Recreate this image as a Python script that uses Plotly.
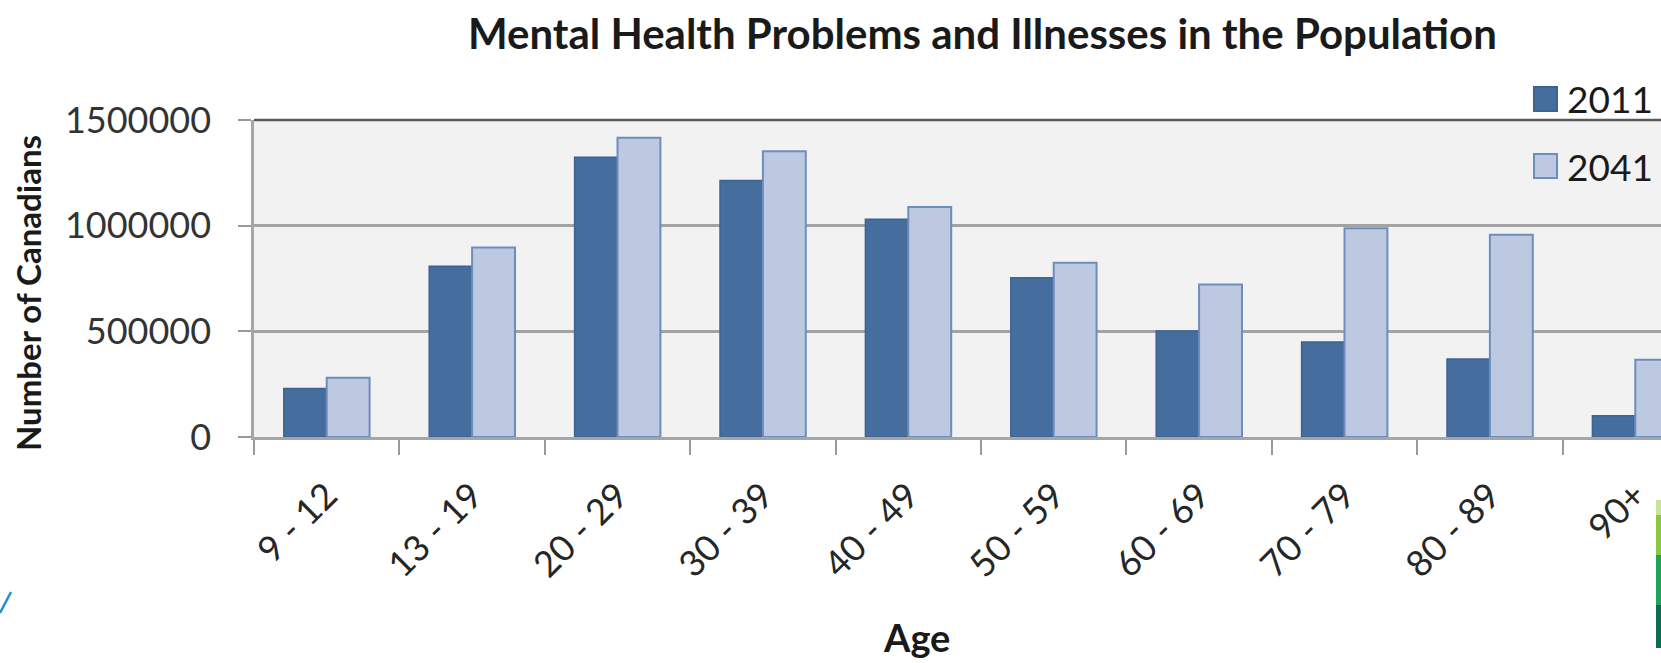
import plotly.graph_objects as go

# ---- data ----
age_groups = ["9 - 12", "13 - 19", "20 - 29", "30 - 39", "40 - 49",
              "50 - 59", "60 - 69", "70 - 79", "80 - 89", "90+"]
series_names = ["2011", "2041"]
values_2011 = [230000, 808000, 1324000, 1214000, 1030000,
               753000, 502000, 450000, 369000, 101000]
values_2041 = [280000, 897000, 1416000, 1352000, 1088000,
               825000, 722000, 988000, 957000, 366000]
y_ticks = [0, 500000, 1000000, 1500000]

title_text = "Mental Health Problems and Illnesses in the Population"
y_title = "Number of Canadians"
x_title = "Age"

# ---- geometry helpers (pixel -> paper) ----
W, H = 1661, 663
L, R, T, B = 254, 0, 120, 226
PW = W - L - R
PH = H - T - B


def px(x):
    return (x - L) / PW


def py(y):
    return (H - B - y) / PH


col_2011 = "#456e9e"
col_2041 = "#bdc9e1"
line_2011 = "#3d6391"
line_2041 = "#6d8dbd"
FONT = "Lato"

fig = go.Figure()
fig.add_trace(go.Bar(x=age_groups, y=values_2011, name=series_names[0],
                     marker=dict(color=col_2011, line=dict(color=line_2011, width=1.5))))
fig.add_trace(go.Bar(x=age_groups, y=values_2041, name=series_names[1],
                     marker=dict(color=col_2041, line=dict(color=line_2041, width=2))))

# visible part of the category axis (chart is cropped at the right edge)
cat_px = 145.4
x_hi = PW / cat_px - 0.5

fig.update_layout(
    width=W, height=H, autosize=False,
    margin=dict(l=L, r=R, t=T, b=B, pad=0),
    paper_bgcolor="white", plot_bgcolor="#f2f2f2",
    barmode="group", bargap=0.41, bargroupgap=0.0,
    showlegend=False,
    font=dict(family=FONT, color="#262626"),
    xaxis=dict(type="category", categoryorder="array", categoryarray=age_groups,
               range=[-0.5, x_hi], tickson="boundaries", ticks="outside",
               ticklen=15, tickwidth=2, tickcolor="#9a9a9a",
               tickangle=-45, tickfont=dict(family=FONT, size=36, color="#262626"),
               ticklabelstandoff=20,
               showline=True, linecolor="#a6a6a6", linewidth=3,
               showgrid=False, zeroline=False),
    yaxis=dict(range=[0, 1500000], tickvals=y_ticks, tickformat="d",
               ticks="outside", ticklen=13, tickwidth=2, tickcolor="#9a9a9a",
               tickfont=dict(family=FONT, size=36, color="#333333"),
               ticklabelstandoff=20,
               showgrid=True, gridcolor="#a3a3a3", gridwidth=2.5,
               showline=True, linecolor="#a6a6a6", linewidth=2.5,
               zeroline=False),
)

annotations = [
    dict(text=f"<b>{title_text}</b>", xref="paper", yref="paper",
         x=px(983), y=py(33), xanchor="center", yanchor="middle",
         showarrow=False, font=dict(family=FONT, size=42, color="#1a1a1a")),
    dict(text=f"<b>{y_title}</b>", xref="paper", yref="paper",
         x=px(28), y=py(293), xanchor="center", yanchor="middle", textangle=-90,
         showarrow=False, font=dict(family=FONT, size=33, color="#1a1a1a")),
    dict(text=f"<b>{x_title}</b>", xref="paper", yref="paper",
         x=px(916), y=py(662), xanchor="center", yanchor="bottom",
         showarrow=False, font=dict(family=FONT, size=38, color="#1a1a1a")),
]

shapes = [
    # darker top border of plot area
    dict(type="line", xref="paper", yref="paper", x0=0, x1=1, y0=1, y1=1,
         line=dict(color="#5a5a5a", width=2.5), layer="above"),
]

# manual legend (bigger swatches than plotly's built-in ones)
legend_rows = [(series_names[0], col_2011, line_2011, 99),
               (series_names[1], col_2041, line_2041, 166)]
for name, fc, lc, cy in legend_rows:
    shapes.append(dict(type="rect", xref="paper", yref="paper",
                       x0=px(1534), x1=px(1557), y0=py(cy + 12), y1=py(cy - 12),
                       fillcolor=fc, line=dict(color=lc, width=2), layer="above"))
    annotations.append(dict(text=name, xref="paper", yref="paper",
                            x=px(1565), y=py(cy), xanchor="left", yanchor="middle",
                            showarrow=False,
                            font=dict(family=FONT, size=37, color="#1a1a1a")))

# slide decorations visible in the screenshot
shapes.append(dict(type="line", xref="paper", yref="paper",
                   x0=px(0), y0=py(613), x1=px(11), y1=py(592),
                   line=dict(color="#1e8fd6", width=2.5)))
for y0, y1, c in [(500, 515, "#c9e29a"), (515, 555, "#8cc63f"),
                  (555, 605, "#1ea35a"), (605, 648, "#0e6b52")]:
    shapes.append(dict(type="rect", xref="paper", yref="paper",
                       x0=px(1656), x1=px(1661), y0=py(y1), y1=py(y0),
                       fillcolor=c, line=dict(width=0)))

fig.update_layout(annotations=annotations, shapes=shapes)
fig.write_html("out.html")
